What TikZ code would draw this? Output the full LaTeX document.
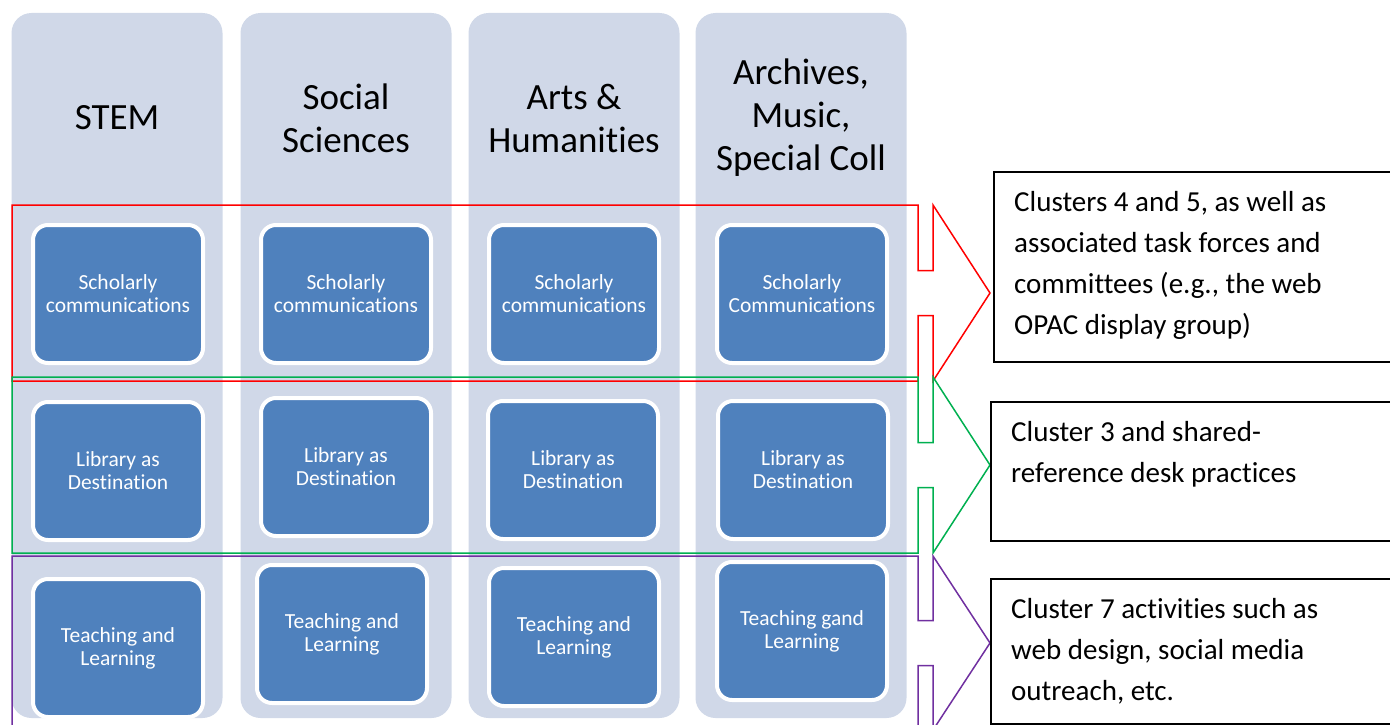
\documentclass[tikz,border=0pt]{standalone}
\usepackage{fontspec}
\usepackage{xcolor}
\setmainfont{Carlito}[Ligatures=NoCommon]
\usetikzlibrary{positioning}

\definecolor{lanefill}{RGB}{208,216,232}
\definecolor{topicblue}{RGB}{79,129,189}
\definecolor{bandred}{RGB}{255,0,0}
\definecolor{bandgreen}{RGB}{0,176,80}
\definecolor{bandpurple}{RGB}{112,48,160}

% band outline with notched arrow head: colour, top, bottom
\newcommand\bandarrow[3]{%
  \draw[#1, line width=1.5pt] (12,#2) -- (918,#2) -- (918,{(#2+#3)/2-22.5}) -- (933,{(#2+#3)/2-22.5})
    -- (933,#2) -- (990,{(#2+#3)/2}) -- (933,#3) -- (933,{(#2+#3)/2+22.5}) -- (918,{(#2+#3)/2+22.5})
    -- (918,#3) -- (12,#3) -- cycle;}

\begin{document}
\begin{tikzpicture}[x=1pt, y=-1pt,
  lane/.style={fill=lanefill, rounded corners=20pt, minimum width=211pt, minimum height=705pt, inner sep=0pt},
  lanehead/.style={align=center, inner sep=0pt, font=\fontsize{37}{43}\selectfont},
  topic/.style={draw=white, line width=4pt, fill=topicblue, rounded corners=15pt, minimum width=170pt,
    minimum height=138pt, inner sep=0pt, align=center, text=white, font=\fontsize{21.5}{23}\selectfont},
  notebox/.style={draw=black, line width=2pt, anchor=north west, minimum width=440pt, inner sep=0pt},
  notetext/.style={align=left, inner sep=0pt, font=\fontsize{29}{41}\selectfont}]

\useasboundingbox (0,0) rectangle (1390,725);
\clip (0,0) rectangle (1390,725);

\node[lane] (stem) at (117,365.5) {};
\node[lane] (social) at (346,365.5) {};
\node[lane] (arts) at (574,365.5) {};
\node[lane] (archives) at (801,365.5) {};

\node[lanehead] (stemhead) at (117,118) {STEM};
\node[lanehead] (socialhead) at (346,118) {Social\\Sciences};
\node[lanehead] (artshead) at (574,118) {Arts \&\\Humanities};
\node[lanehead] (archiveshead) at (801,118) {Archives,\\Music,\\Special Coll};

\node[topic] (stemsc) at (118,294) {Scholarly\\communications};
\node[topic] (socialsc) at (346,294) {Scholarly\\communications};
\node[topic] (artssc) at (574,294) {Scholarly\\communications};
\node[topic] (archivessc) at (802,294) {Scholarly\\Communications};

\node[topic] (stemld) at (118,471) {Library as\\Destination};
\node[topic] (socialld) at (346,467) {Library as\\Destination};
\node[topic] (artsld) at (573,470) {Library as\\Destination};
\node[topic] (archivesld) at (803,470) {Library as\\Destination};

\node[topic] (stemtl) at (118,648) {Teaching and\\Learning};
\node[topic] (socialtl) at (342,634) {Teaching and\\Learning};
\node[topic] (artstl) at (574,637) {Teaching and\\Learning};
\node[topic] (archivestl) at (802,631) {Teaching gand\\Learning};

\bandarrow{bandred}{205}{381}
\bandarrow{bandgreen}{377}{553}
\bandarrow{bandpurple}{556}{730}

\node[notebox, minimum height=190pt] (note1) at (993,171) {};
\node[notebox, minimum height=139pt] (note2) at (990,401) {};
\node[notebox, minimum height=145pt] (note3) at (990,578) {};

\node[notetext, below right=12pt and 21pt of note1.north west] (text1)
  {\strut Clusters 4 and 5, as well as\\associated task forces and\\committees (e.g., the web\\OPAC display group)};
\node[notetext, below right=12pt and 21pt of note2.north west] (text2)
  {\strut Cluster 3 and shared-\\reference desk practices};
\node[notetext, below right=12pt and 21pt of note3.north west] (text3)
  {\strut Cluster 7 activities such as\\web design, social media\\outreach, etc.};

\end{tikzpicture}
\end{document}
